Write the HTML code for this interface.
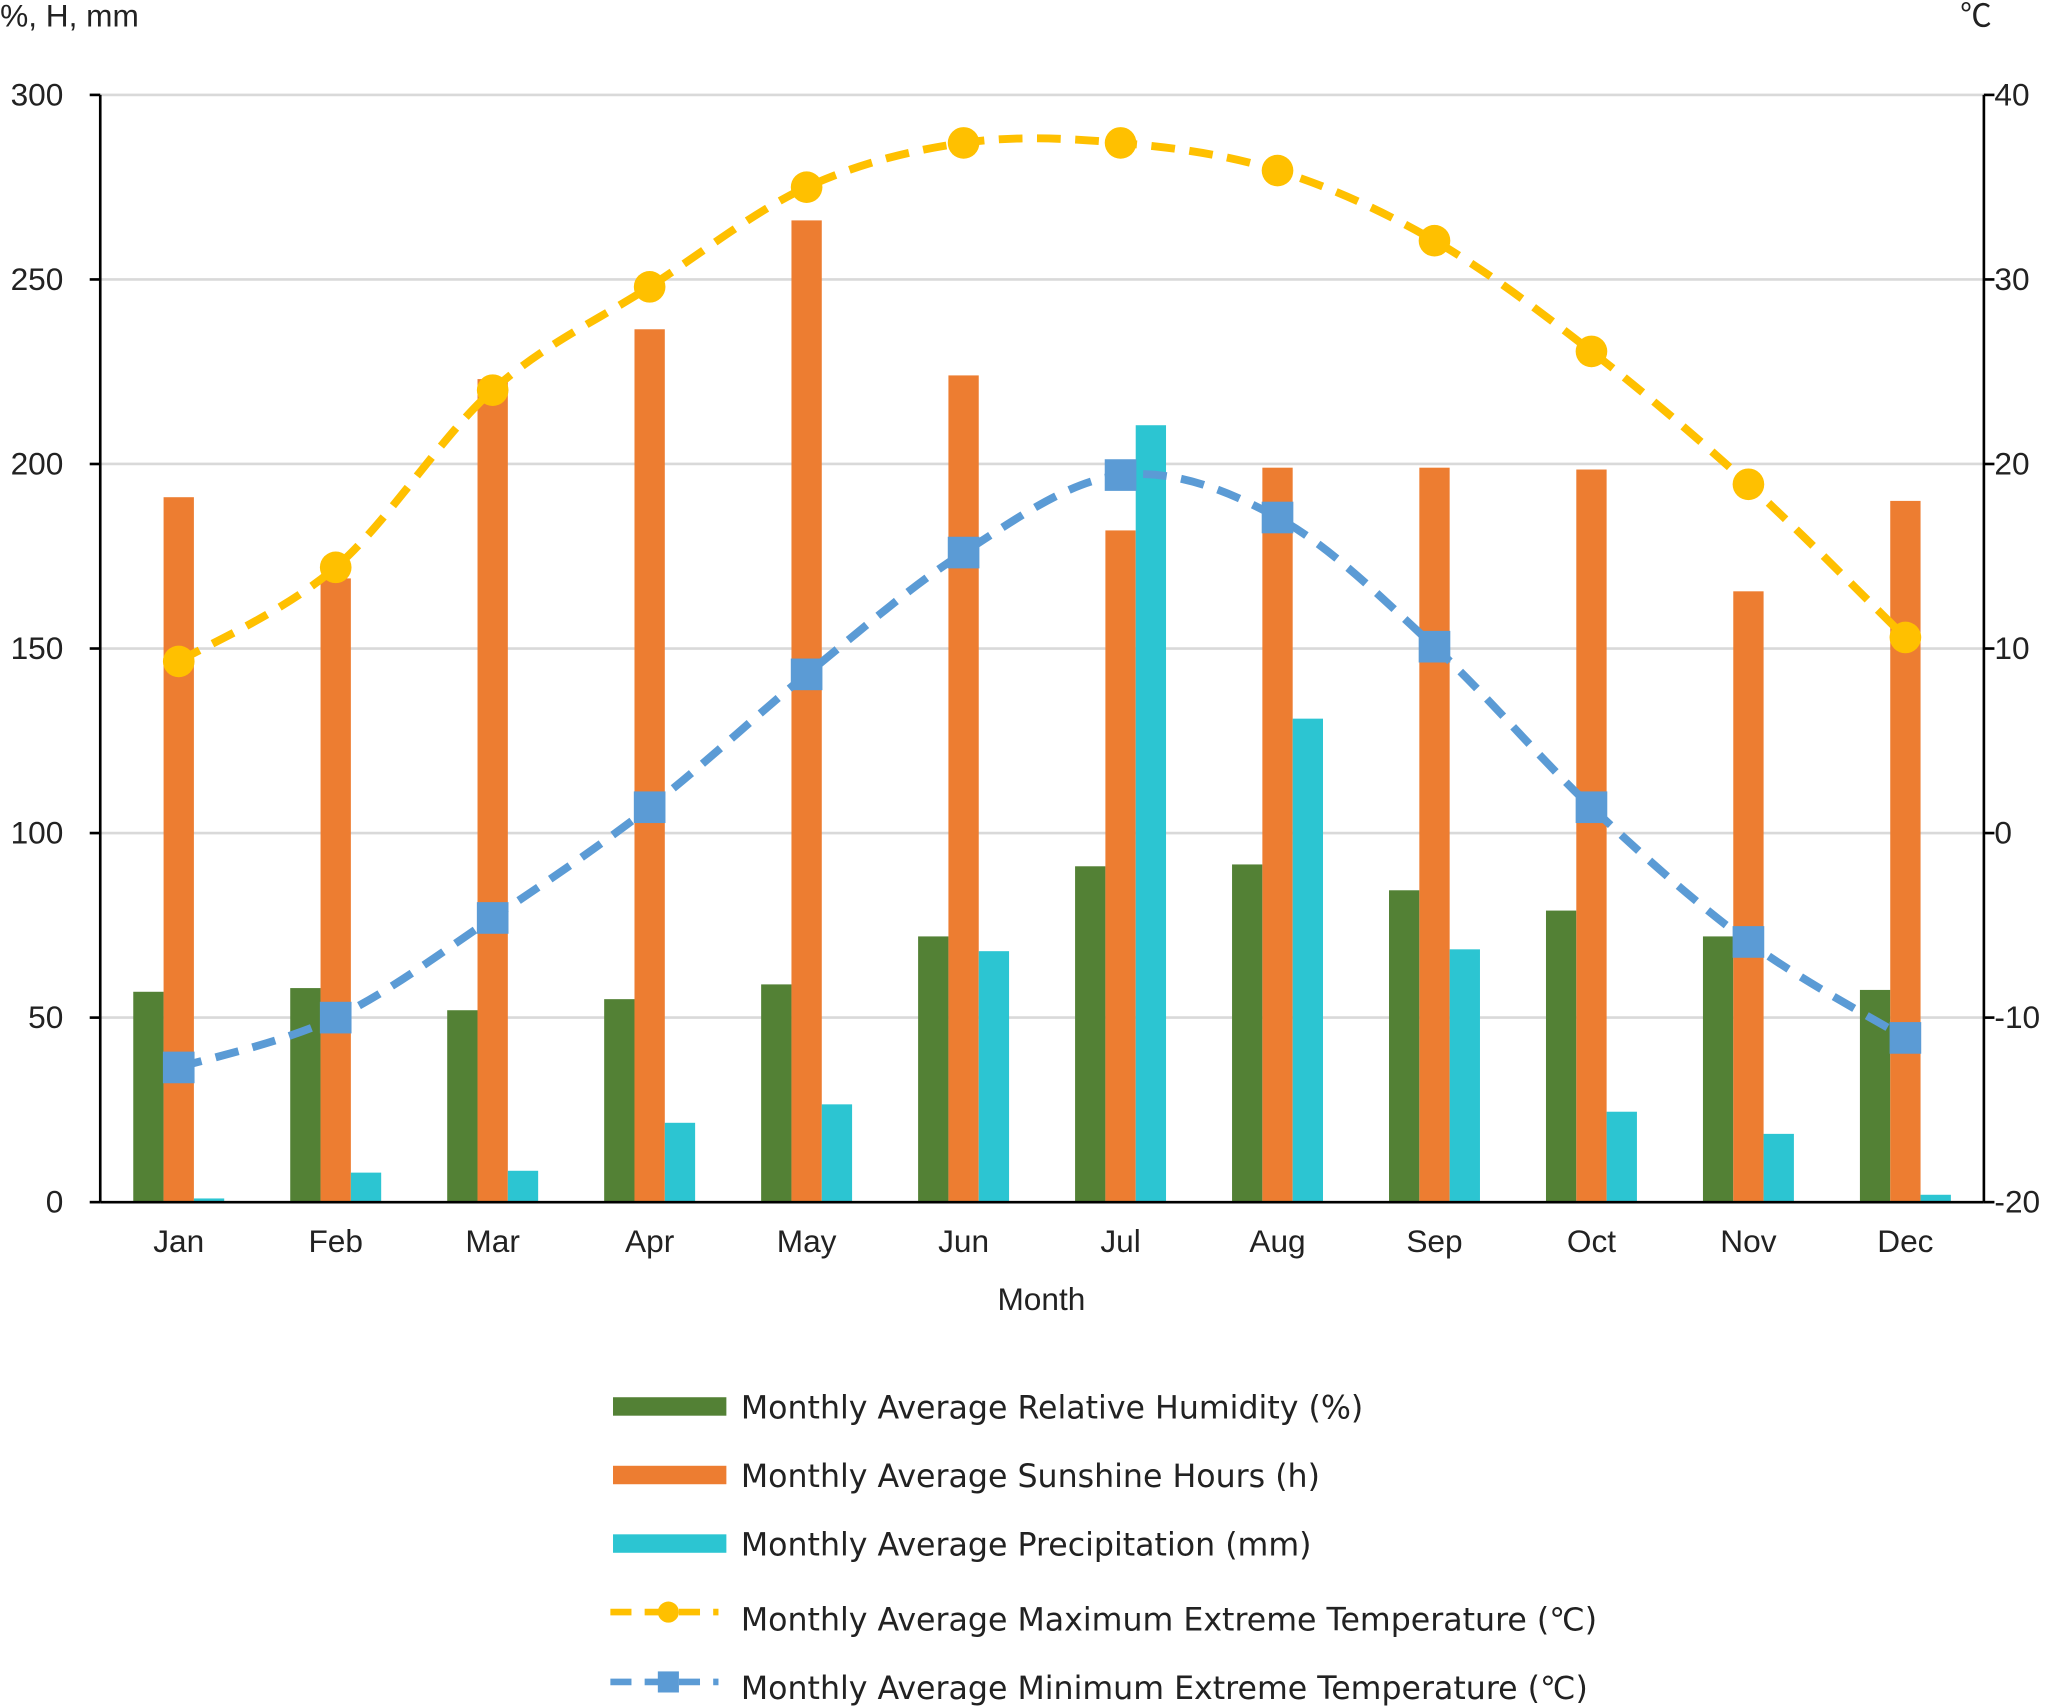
<!DOCTYPE html>
<html><head><meta charset="utf-8"><style>
html,body{margin:0;padding:0;background:#fff;}
svg{display:block;font-family:"Liberation Sans","Noto Sans CJK SC",sans-serif;}
#legend text{font-family:"DejaVu Sans","Liberation Sans",sans-serif;}
</style></head><body>
<svg id="chart" width="2067" height="1707" viewBox="0 0 1568 1295" xmlns="http://www.w3.org/2000/svg">
<g id="grid"></g>
<g id="bars"></g>
<g id="lines"></g>
<g id="axes"></g>
<text x="0" y="20" font-size="24" fill="#222">%, H, mm</text>
<text x="1487" y="20" font-size="24" fill="#222">℃</text>
<text x="790" y="994" font-size="24" fill="#222" text-anchor="middle">Month</text>
<g id="legend">
<g><rect x="465" y="1060" width="86" height="14" fill="#538135"/><text x="562" y="1076" font-size="24" fill="#222">Monthly Average Relative Humidity (%)</text></g>
<g><rect x="465" y="1112" width="86" height="14" fill="#ED7D31"/><text x="562" y="1128" font-size="24" fill="#222">Monthly Average Sunshine Hours (h)</text></g>
<g><rect x="465" y="1164" width="86" height="14" fill="#2CC5D2"/><text x="562" y="1180" font-size="24" fill="#222">Monthly Average Precipitation (mm)</text></g>
<g><line x1="463" y1="1223" x2="545" y2="1223" stroke="#FFC000" stroke-width="5" stroke-dasharray="16,10"/><circle cx="507" cy="1223" r="8" fill="#FFC000"/><text x="562" y="1237" font-size="24" fill="#222">Monthly Average Maximum Extreme Temperature (℃)</text></g>
<g><line x1="463" y1="1276" x2="545" y2="1276" stroke="#5B9BD5" stroke-width="5" stroke-dasharray="16,10"/><rect x="499" y="1268" width="16" height="16" fill="#5B9BD5"/><text x="562" y="1289" font-size="24" fill="#222">Monthly Average Minimum Extreme Temperature (℃)</text></g>
</g>
</svg>
<script>
const months=["Jan","Feb","Mar","Apr","May","Jun","Jul","Aug","Sep","Oct","Nov","Dec"];
const humidity=[57,58,52,55,59,72,91,91.5,84.5,79,72,57.5];
const sunshine=[191,169,223,236.5,266,224,182,199,199,198.5,165.5,190];
const precipitation=[1,8,8.5,21.5,26.5,68,210.5,131,68.5,24.5,18.5,2];
const maxTemp=[9.3,14.4,24,29.6,35,37.4,37.4,35.9,32.1,26.1,18.9,10.6];
const minTemp=[-12.7,-10,-4.6,1.4,8.6,15.2,19.4,17.1,10.1,1.4,-5.9,-11.1];
const leftTicks=[0,50,100,150,200,250,300];
const rightTicks=[-20,-10,0,10,20,30,40];

const NS="http://www.w3.org/2000/svg";
const X0=76,X1=1505,Y0=912,Y1=72;
const bw=(X1-X0)/months.length;
const xc=i=>X0+bw*(i+0.5);
const yL=v=>Y0-(v-0)/(300-0)*(Y0-Y1);
const yR=v=>Y0-(v+20)/(60)*(Y0-Y1);
function mk(tag,attrs,parent){const e=document.createElementNS(NS,tag);for(const k in attrs)e.setAttribute(k,attrs[k]);parent.appendChild(e);return e;}
const grid=document.getElementById('grid'),bars=document.getElementById('bars'),lines=document.getElementById('lines'),axes=document.getElementById('axes');
leftTicks.forEach((t,i)=>{
  if(t>0){const g=mk('line',{x1:X0,x2:X1,y1:yL(t),y2:yL(t),stroke:'#d9d9d9','stroke-width':2},grid);
  
  }
  const tl=mk('text',{x:48,y:yL(t)+8,'font-size':24,fill:'#222','text-anchor':'end'},axes);tl.textContent=t;
  
  
  mk('line',{x1:X0-8,x2:X0,y1:yL(t),y2:yL(t),stroke:'#000','stroke-width':2},axes);
});
rightTicks.forEach(t=>{
  const tl=mk('text',{x:1513,y:yR(t)+8,'font-size':24,fill:'#222'},axes);tl.textContent=t;
  
  
  mk('line',{x1:X1,x2:X1+8,y1:yR(t),y2:yR(t),stroke:'#000','stroke-width':2},axes);
});
mk('line',{x1:X0,x2:X0,y1:Y1,y2:Y0,stroke:'#000','stroke-width':2},axes);
mk('line',{x1:X1,x2:X1,y1:Y1,y2:Y0,stroke:'#000','stroke-width':2},axes);
mk('line',{x1:X0,x2:X1,y1:Y0,y2:Y0,stroke:'#000','stroke-width':2},axes);
const W=23;
months.forEach((m,i)=>{
  const c=xc(i);
  const ml=mk('text',{x:c,y:950,'font-size':24,fill:'#222','text-anchor':'middle'},axes);ml.textContent=m;
  
  
  [[humidity,'#538135',-1,'bar-humidity'],[sunshine,'#ED7D31',0,'bar-sunshine'],[precipitation,'#2CC5D2',1,'bar-precipitation']].forEach(([arr,col,off,nm])=>{
    const y=yL(arr[i]);
    const r=mk('rect',{x:c+off*W-W/2,y:y,width:W,height:Y0-y,fill:col},bars);
    
    
  });
});
function smooth(pts){let d=`M${pts[0][0]},${pts[0][1]}`;
  for(let i=0;i<pts.length-1;i++){const p0=pts[i-1]||pts[i],p1=pts[i],p2=pts[i+1],p3=pts[i+2]||p2;
    const k=1/6;
    d+=` C${p1[0]+(p2[0]-p0[0])*k},${p1[1]+(p2[1]-p0[1])*k} ${p2[0]-(p3[0]-p1[0])*k},${p2[1]-(p3[1]-p1[1])*k} ${p2[0]},${p2[1]}`;}
  return d;}
const pMax=maxTemp.map((v,i)=>[xc(i),yR(v)]);
const pMin=minTemp.map((v,i)=>[xc(i),yR(v)]);
const l1=mk('path',{d:smooth(pMax),fill:'none',stroke:'#FFC000','stroke-width':6,'stroke-dasharray':'18,11'},lines);


const l2=mk('path',{d:smooth(pMin),fill:'none',stroke:'#5B9BD5','stroke-width':6,'stroke-dasharray':'18,11'},lines);


pMax.forEach(p=>{const c=mk('circle',{cx:p[0],cy:p[1],r:12,fill:'#FFC000'},lines);
  
  });
pMin.forEach(p=>{const r=mk('rect',{x:p[0]-12,y:p[1]-12,width:24,height:24,fill:'#5B9BD5'},lines);
  
  });
</script>
</body></html>
